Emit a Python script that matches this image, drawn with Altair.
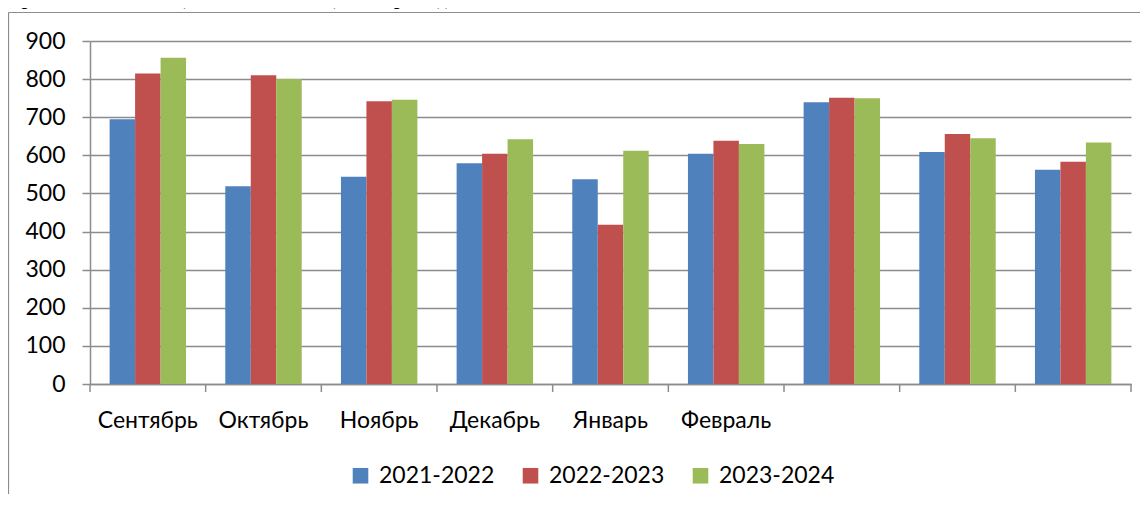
import altair as alt
import pandas as pd

# ---- data ----
months = ["Сентябрь", "Октябрь", "Ноябрь", "Декабрь", "Январь", "Февраль", " ", "  ", "   "]
series = ["2021-2022", "2022-2023", "2023-2024"]
v_2021_2022 = [695, 519, 544, 579, 537, 604, 739, 609, 562]
v_2022_2023 = [815, 810, 742, 604, 418, 638, 751, 656, 583]
v_2023_2024 = [856, 800, 746, 642, 612, 630, 750, 645, 634]
colors = ["#4F81BD", "#C0504D", "#9BBB59"]
y_ticks = [0, 100, 200, 300, 400, 500, 600, 700, 800, 900]
title_text = "Сравнение по посещаемости по месяцам за три года."

rows = []
for name, vals in zip(series, [v_2021_2022, v_2022_2023, v_2023_2024]):
    for m, v in zip(months, vals):
        rows.append({"month": m, "series": name, "value": v})
df = pd.DataFrame(rows)
tick_df = pd.DataFrame({"month": months})
one = pd.DataFrame({"a": [0]})

W, H = 1041, 343
PAD = {"left": 82, "top": 33, "right": 9, "bottom": 110}
GRAY = "#8c8c8c"
FONT = "Lato"
FS = 23

x_enc = alt.X(
    "month:N", sort=months,
    scale=alt.Scale(paddingInner=0, paddingOuter=0),
    axis=alt.Axis(title=None, labelAngle=0, ticks=False, grid=False,
                  domainColor=GRAY, domainWidth=1.5,
                  labelFont=FONT, labelFontSize=FS, labelColor="black",
                  labelPadding=25),
)

bars = alt.Chart(df).mark_bar().encode(
    x=x_enc,
    xOffset=alt.XOffset("series:N", sort=series,
                        scale=alt.Scale(paddingInner=0, paddingOuter=0.77)),
    y=alt.Y("value:Q", scale=alt.Scale(domain=[0, 900], nice=False),
            axis=alt.Axis(title=None, values=y_ticks, tickSize=8, tickColor=GRAY,
                          tickWidth=1.5, domainColor=GRAY, domainWidth=1.5,
                          gridColor=GRAY, gridWidth=1.5, grid=True,
                          labelFont=FONT, labelFontSize=FS, labelColor="black",
                          labelPadding=17)),
    color=alt.Color("series:N", sort=series,
                    scale=alt.Scale(domain=series, range=colors),
                    legend=alt.Legend(title=None, orient="none", direction="horizontal",
                                      legendX=259, legendY=423,
                                      symbolType="square", symbolSize=243,
                                      symbolStrokeWidth=0, labelFont=FONT,
                                      labelFontSize=FS, labelColor="black",
                                      labelOffset=7, columnPadding=24)),
)

x_ticks = alt.Chart(tick_df).mark_rule(color=GRAY, strokeWidth=1.5).encode(
    x=alt.X("month:N", sort=months, bandPosition=0),
    y=alt.value(H), y2=alt.value(H + 8),
)
last_tick = alt.Chart(one).mark_rule(color=GRAY, strokeWidth=1.5).encode(
    x=alt.value(W), y=alt.value(H), y2=alt.value(H + 8),
)

# outer frame: only its top and left edges are inside the picture
frame_top = alt.Chart(one).mark_rule(color=GRAY, strokeWidth=1.2).encode(
    x=alt.value(-81.5), x2=alt.value(W + PAD["right"]), y=alt.value(-28.5),
)
frame_left = alt.Chart(one).mark_rule(color=GRAY, strokeWidth=1.2).encode(
    x=alt.value(-81.5), y=alt.value(-28.5), y2=alt.value(H + PAD["bottom"]),
)

title = alt.Chart(one).mark_text(font="Liberation Serif", fontWeight="bold", fontSize=19,
                                 align="left", baseline="alphabetic", color="black").encode(
    x=alt.value(-82), y=alt.value(-36), text=alt.value(title_text),
)

chart = alt.layer(frame_top, frame_left, bars, x_ticks, last_tick, title).properties(
    width=W, height=H,
    autosize=alt.AutoSizeParams(type="none"),
    padding=PAD,
).configure_view(strokeWidth=0)

chart.save("out.html", embed_options={"renderer": "svg", "actions": False})
